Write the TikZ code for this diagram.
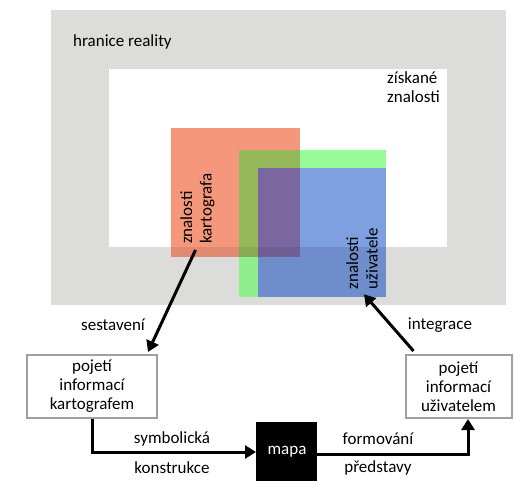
\documentclass[tikz,border=0pt]{standalone}
\usepackage{fontspec}
\setmainfont{Carlito}
\usetikzlibrary{arrows.meta,calc}
\definecolor{realgray}{HTML}{DCDDDB}
\definecolor{redw}{HTML}{F4977B}
\definecolor{redg}{HTML}{E08A72}
\definecolor{greenw}{HTML}{98FD98}
\definecolor{greeng}{HTML}{8EEE8E}
\definecolor{bluew}{HTML}{7FA0E0}
\definecolor{blueg}{HTML}{6E8DCA}
\definecolor{olivew}{HTML}{95B85A}
\definecolor{oliveg}{HTML}{8AA955}
\definecolor{purplew}{HTML}{7A679F}
\definecolor{purpleg}{HTML}{6F5F93}
\definecolor{boxgray}{HTML}{A0A0A0}
\tikzset{
  lbl/.style={font=\fontsize{17}{19.5}\selectfont, inner sep=0pt},
  infobox/.style={draw=boxgray, line width=2pt, fill=white, minimum height=63pt, align=center, inner sep=0pt, font=\fontsize{17}{19}\selectfont},
  flow/.style={line width=3pt, -{Triangle[length=11pt,width=13pt]}},
}
\begin{document}
\begin{tikzpicture}[x=1pt,y=-1pt]
\useasboundingbox (0,0) rectangle (514,481);
% reality and acquired knowledge
\fill[realgray] (51,10) rectangle (506,305);
\fill[white] (109,69) rectangle (447,247);
% base colours over white
\fill[redw] (171,128) rectangle (300,247);
\fill[greenw] (239,150) rectangle (386,247);
\fill[bluew] (258,168) rectangle (386,247);
\fill[olivew] (239,150) rectangle (300,168);
\fill[olivew] (239,168) rectangle (258,247);
\fill[purplew] (258,168) rectangle (300,247);
% over grey band
\fill[redg] (171,247) rectangle (239,257);
\fill[oliveg] (239,247) rectangle (258,257);
\fill[purpleg] (258,247) rectangle (300,257);
\fill[greeng] (239,257) rectangle (258,297);
\fill[blueg] (300,247) rectangle (386,297);
\fill[blueg] (258,257) rectangle (300,297);
% texts
\node[lbl, anchor=west] (real) at (73,42) {hranice reality};
\node[lbl, align=left, anchor=north west] (ziskane) at (387,71) {získané\\znalosti};
\node[lbl, align=left, rotate=90] (zk) at (197.5,208.5) {znalosti\\kartografa};
\node[lbl, align=left, rotate=90] (zu) at (362,258.5) {znalosti\\uživatele};
% boxes
\node[infobox, minimum width=130pt] (lbox) at (92,386.5) {pojetí\\informací\\kartografem};
\node[infobox, minimum width=106pt] (rbox) at (458.5,386.5) {pojetí\\informací\\uživatelem};
\node[fill=black, minimum width=61pt, minimum height=62pt, inner sep=0pt, anchor=north west] (mapa) at (256,422) {};
\node[lbl, text=white] (mapatext) at (287,452) {mapa};
% labels
\node[lbl] (sest) at (113,325) {sestavení};
\node[lbl] (integ) at (440,325) {integrace};
\node[lbl] (symb) at (172,439) {symbolická};
\node[lbl] (konst) at (172,468) {konstrukce};
\node[lbl] (form) at (378,439) {formování};
\node[lbl] (pred) at (378,468) {představy};
% connectors
\coordinate (a1s) at ($(zk.west)+(-2,6)$);
\coordinate (a1e) at ($(lbox.north east)+(-10,-2)$);
\draw[flow] (a1s) -- (a1e);
\coordinate (a2s) at ($(rbox.north west)+(9,-3)$);
\coordinate (a2e) at ($(zu.west)+(2,5)$);
\draw[flow] (a2s) -- (a2e);
\draw[flow] (lbox.south) |- (mapa.west |- 0,452);
\draw[flow] (mapa.east |- 0,454) -| (rbox.south -| 468,0);
\end{tikzpicture}
\end{document}
